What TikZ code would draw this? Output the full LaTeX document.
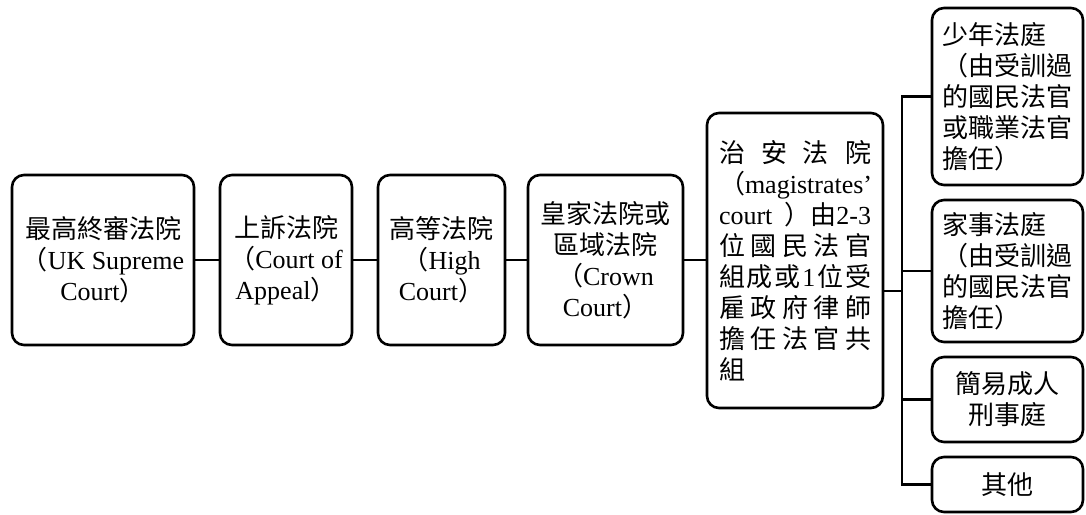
\documentclass[tikz,border=0pt]{standalone}
\usepackage{fontspec}
\setmainfont{Liberation Serif}
\newfontfamily\cjkfont{Noto Sans CJK TC}
\newcommand\zh[1]{{\cjkfont #1}}
\tikzset{
  courtbox/.style={draw, line width=2.6pt, rounded corners=12pt, inner sep=0pt,
    align=center, font={\fontsize{26pt}{31pt}\selectfont}},
  link/.style={line width=2.6pt}
}
\begin{document}
\begin{tikzpicture}[x=1pt,y=-1pt]
\useasboundingbox (0,0) rectangle (1086,514);
% main chain
\node[courtbox, minimum width=182pt, minimum height=170pt] (b1) at (103,260)
  {\zh{最高終審法院}\\\zh{（}UK Supreme\\Court\zh{）}};
\node[courtbox, minimum width=132pt, minimum height=170pt] (b2) at (286,260)
  {\zh{上訴法院}\\\zh{（}Court of\\Appeal\zh{）}};
\node[courtbox, minimum width=127pt, minimum height=170pt] (b3) at (441.5,260)
  {\zh{高等法院}\\\zh{（}High\\Court\zh{）}};
\node[courtbox, minimum width=155pt, minimum height=170pt] (b4) at (605.5,260)
  {\zh{皇家法院或}\\\zh{區域法院}\\\zh{（}Crown\\Court\zh{）}};
\node[courtbox, minimum width=176pt, minimum height=295pt] (b5) at (795,260.5)
  {\makebox[152pt][s]{\zh{治\hfill 安\hfill 法\hfill 院}}\\
   \makebox[152pt][s]{\zh{（}magistrates’}\\
   \makebox[152pt][s]{court\hfill\zh{）由}2-3}\\
   \makebox[152pt][s]{\zh{位\hfill 國\hfill 民\hfill 法\hfill 官}}\\
   \makebox[152pt][s]{\zh{組\hfill 成\hfill 或}\hfill 1\hfill\zh{位\hfill 受}}\\
   \makebox[152pt][s]{\zh{雇\hfill 政\hfill 府\hfill 律\hfill 師}}\\
   \makebox[152pt][s]{\zh{擔\hfill 任\hfill 法\hfill 官\hfill 共}}\\
   \makebox[152pt][l]{\zh{組}}};
% right column
\node[courtbox, minimum width=151pt, minimum height=177pt] (ra) at (1007.5,96.5)
  {\begin{minipage}{130pt}\raggedright\zh{少年法庭\\（由受訓過\\的國民法官\\或職業法官\\擔任）}\end{minipage}};
\node[courtbox, minimum width=151pt, minimum height=142pt] (rb) at (1007.5,271)
  {\begin{minipage}{130pt}\raggedright\zh{家事法庭\\（由受訓過\\的國民法官\\擔任）}\end{minipage}};
\node[courtbox, minimum width=151pt, minimum height=85pt] (rc) at (1007.5,399.5)
  {\zh{簡易成人}\\\zh{刑事庭}};
\node[courtbox, minimum width=151pt, minimum height=55pt] (rd) at (1007.5,484.5)
  {\zh{其他}};
% connectors
\draw[link] (b1.east) -- (b2.west);
\draw[link] (b2.east) -- (b3.west);
\draw[link] (b3.east) -- (b4.west);
\draw[link] (b4.east) -- (b4.east -| b5.west);
\coordinate (bus) at (902,291);
\draw[link] (bus -| b5.east) -- (bus);
\draw[link, line cap=rect] (bus |- ra.west) -- (bus |- rd.west);
\draw[link] (bus |- ra.west) -- (ra.west);
\draw[link] (bus |- rb.west) -- (rb.west);
\draw[link] (bus |- rc.west) -- (rc.west);
\draw[link] (bus |- rd.west) -- (rd.west);
\end{tikzpicture}
\end{document}
